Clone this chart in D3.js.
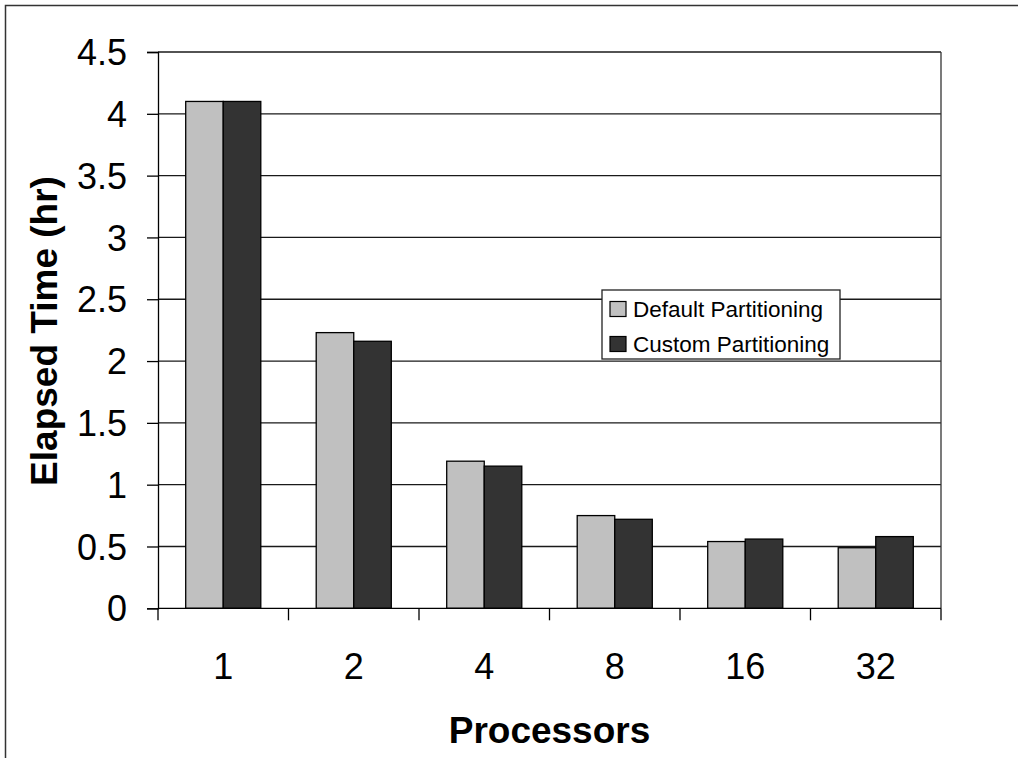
<!DOCTYPE html>
<html>
<head>
<meta charset="utf-8">
<script src="https://cdn.jsdelivr.net/npm/d3@7/dist/d3.min.js"></script>
<style>
  html, body { margin: 0; padding: 0; background: #fff; }
  svg { display: block; }
  text { font-family: "Liberation Sans", Arial, sans-serif; fill: #000; }
</style>
</head>
<body>
<svg id="chart" width="1018" height="758"></svg>
<script>
// Processor counts (x categories)
const processors = ["1", "2", "4", "8", "16", "32"];
// Elapsed time in hours for each partitioning strategy
const defaultPartitioning = [4.10, 2.23, 1.19, 0.75, 0.54, 0.49];
const customPartitioning  = [4.10, 2.16, 1.15, 0.72, 0.56, 0.58];
const seriesNames = ["Default Partitioning", "Custom Partitioning"];
const seriesColors = ["#c0c0c0", "#333333"];
const yTicks = [0, 0.5, 1, 1.5, 2, 2.5, 3, 3.5, 4, 4.5];

const svg = d3.select("#chart");
const plot = { left: 158, right: 941, top: 52, bottom: 608.3 };

// Outer chart frame (runs off the right and bottom edges)
svg.append("path")
  .attr("d", "M5.5,770 V5.5 H1030")
  .attr("fill", "none").attr("stroke", "#333").attr("stroke-width", 1.5);

const y = d3.scaleLinear().domain([0, 4.5]).range([plot.bottom, plot.top]);
const x = d3.scaleBand().domain(processors).range([plot.left, plot.right]).padding(0);
const inner = d3.scaleBand().domain([0, 1])
  .range([x.bandwidth() * 0.2123, x.bandwidth() * (1 - 0.2123)]).padding(0);

// Horizontal gridlines
svg.append("g").selectAll("line").data(yTicks.filter(d => d > 0)).join("line")
  .attr("x1", plot.left).attr("x2", plot.right)
  .attr("y1", d => y(d)).attr("y2", d => y(d))
  .attr("stroke", "#1a1a1a").attr("stroke-width", 1.3);

// Right edge of the plot area
svg.append("line")
  .attr("x1", plot.right).attr("x2", plot.right)
  .attr("y1", plot.top).attr("y2", plot.bottom)
  .attr("stroke", "#333").attr("stroke-width", 1.3);

// Bars
const series = [defaultPartitioning, customPartitioning];
series.forEach((vals, si) => {
  svg.append("g").selectAll("rect").data(processors).join("rect")
    .attr("x", d => x(d) + inner(si))
    .attr("width", inner.bandwidth())
    .attr("y", (d, i) => y(vals[i]))
    .attr("height", (d, i) => y(0) - y(vals[i]))
    .attr("fill", seriesColors[si])
    .attr("stroke", "#000").attr("stroke-width", 1.3);
});

// Y axis
const yAxis = svg.append("g")
  .attr("transform", `translate(${plot.left},0)`)
  .call(d3.axisLeft(y).tickValues(yTicks).tickFormat(d3.format("")).tickSize(11).tickPadding(20));
yAxis.select(".domain").attr("stroke", "#000").attr("stroke-width", 1.3);
yAxis.selectAll(".tick line").attr("stroke", "#000").attr("stroke-width", 1.3);
yAxis.selectAll(".tick text")
  .style("font-family", "'Liberation Sans', Arial, sans-serif")
  .style("font-size", "36px").attr("fill", "#000").attr("dy", "0.35em");

// X axis: ticks at category boundaries, labels centred in each band
const xAxisG = svg.append("g").attr("transform", `translate(0,${plot.bottom})`);
xAxisG.append("line")
  .attr("x1", plot.left).attr("x2", plot.right)
  .attr("stroke", "#000").attr("stroke-width", 1.3);
const bounds = processors.map(p => x(p)).concat([plot.right]);
xAxisG.selectAll("line.tick").data(bounds).join("line").attr("class", "tick")
  .attr("x1", d => d).attr("x2", d => d).attr("y1", 0).attr("y2", 12)
  .attr("stroke", "#000").attr("stroke-width", 1.3);
xAxisG.selectAll("text").data(processors).join("text")
  .attr("x", d => x(d) + x.bandwidth() / 2)
  .attr("y", 71)
  .attr("text-anchor", "middle")
  .style("font-size", "36px")
  .text(d => d);

// Axis titles
svg.append("text")
  .attr("x", (plot.left + plot.right) / 2 + 0)
  .attr("y", 743)
  .attr("text-anchor", "middle")
  .style("font-size", "37px").style("font-weight", "bold")
  .text("Processors");
svg.append("text")
  .attr("transform", "translate(57,331) rotate(-90)")
  .attr("text-anchor", "middle")
  .style("font-size", "37px").style("font-weight", "bold")
  .text("Elapsed Time (hr)");

// Legend
const legend = svg.append("g").attr("transform", "translate(602,290)");
legend.append("rect")
  .attr("width", 238).attr("height", 69)
  .attr("fill", "#fff").attr("stroke", "#222").attr("stroke-width", 1.3);
seriesNames.forEach((name, i) => {
  const row = legend.append("g").attr("transform", `translate(0,${19 + i * 35})`);
  row.append("rect")
    .attr("x", 8).attr("y", -7.5).attr("width", 16).attr("height", 15)
    .attr("fill", seriesColors[i]).attr("stroke", "#000").attr("stroke-width", 1.2);
  row.append("text")
    .attr("x", 31).attr("y", 0).attr("dy", "0.35em")
    .style("font-size", "22.5px")
    .text(name);
});
</script>
</body>
</html>
